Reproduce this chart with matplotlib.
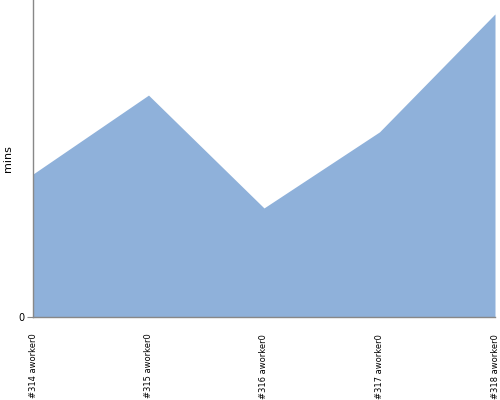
import matplotlib
matplotlib.use("Agg")
import matplotlib.pyplot as plt

builds = ["#314 aworker0", "#315 aworker0", "#316 aworker0", "#317 aworker0", "#318 aworker0"]
mins = [4.51, 7.0, 3.44, 5.84, 9.56]

fig = plt.figure(figsize=(5, 4), dpi=100)
ax = fig.add_axes([0.066, 0.2075, 0.924, 0.7925])

x = list(range(len(builds)))
ax.fill_between(x, mins, 0, color="#8fb1da", linewidth=0)

ax.set_xlim(0, len(builds) - 1)
ax.set_ylim(0, 10)
ax.set_yticks([0])
ax.set_yticklabels(["0"], fontsize=7)
ax.set_xticks(x)
ax.set_xticklabels(builds, rotation=90, fontsize=6)
ax.set_ylabel("mins", fontsize=8)

for s in ("top", "right"):
    ax.spines[s].set_visible(False)
for s in ("left", "bottom"):
    ax.spines[s].set_color("#888888")
    ax.spines[s].set_linewidth(1)
ax.tick_params(axis="y", length=4, color="#888888", pad=2)
ax.tick_params(axis="x", length=0, pad=12)

fig.savefig("out.png", dpi=100)
